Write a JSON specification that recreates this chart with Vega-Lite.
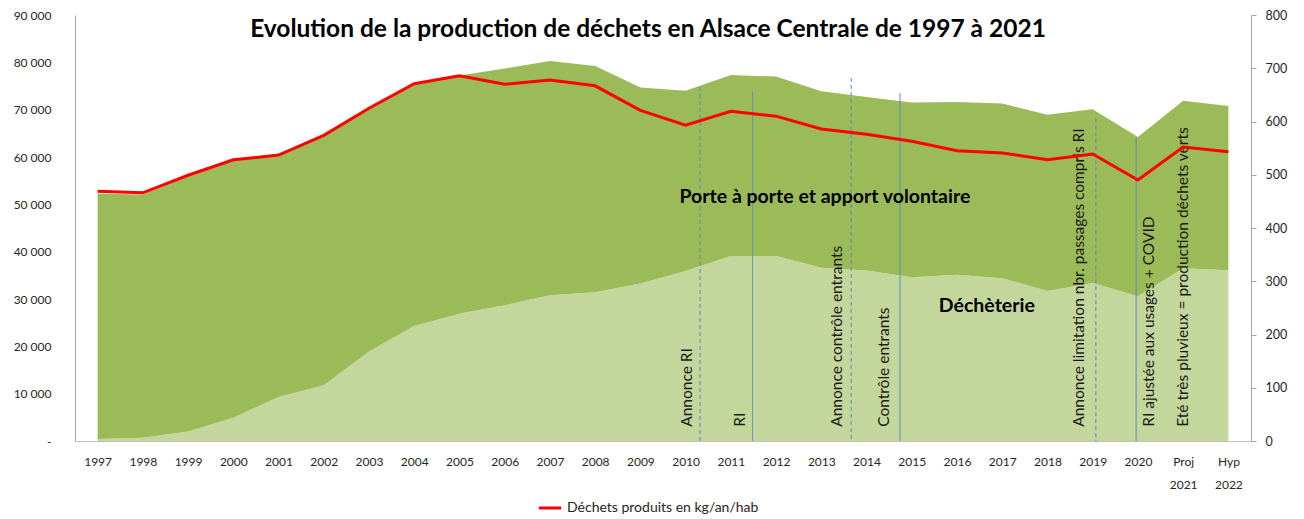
{
  "$schema": "https://vega.github.io/schema/vega-lite/v6.json",
  "width": 1176,
  "height": 426,
  "autosize": {"type": "none"},
  "padding": {"left": 75, "top": 15, "right": 53, "bottom": 78},
  "background": "white",
  "config": {"view": {"stroke": null}, "font": "Lato", "axis": {"grid": false}},
  "title": {"text": "Evolution de la production de déchets en Alsace Centrale de 1997 à 2021", "font": "Lato", "fontSize": 24.5, "fontWeight": "bold", "color": "#000000", "anchor": "middle", "dx": -15, "offset": -33},
  "datasets": {
    "prod": [
      {"year": 1997, "dech": 400, "pap": 51900, "kg": 469},
      {"year": 1998, "dech": 700, "pap": 51400, "kg": 466},
      {"year": 1999, "dech": 2000, "pap": 53900, "kg": 499},
      {"year": 2000, "dech": 4900, "pap": 54400, "kg": 528},
      {"year": 2001, "dech": 9300, "pap": 50900, "kg": 537},
      {"year": 2002, "dech": 11800, "pap": 52600, "kg": 574},
      {"year": 2003, "dech": 18900, "pap": 51200, "kg": 625},
      {"year": 2004, "dech": 24300, "pap": 51000, "kg": 671},
      {"year": 2005, "dech": 26900, "pap": 50300, "kg": 686},
      {"year": 2006, "dech": 28700, "pap": 50000, "kg": 670},
      {"year": 2007, "dech": 30800, "pap": 49500, "kg": 678},
      {"year": 2008, "dech": 31400, "pap": 47800, "kg": 667},
      {"year": 2009, "dech": 33300, "pap": 41400, "kg": 621},
      {"year": 2010, "dech": 35900, "pap": 38100, "kg": 593},
      {"year": 2011, "dech": 39100, "pap": 38200, "kg": 619},
      {"year": 2012, "dech": 39100, "pap": 37900, "kg": 610},
      {"year": 2013, "dech": 36600, "pap": 37300, "kg": 586},
      {"year": 2014, "dech": 36000, "pap": 36700, "kg": 576},
      {"year": 2015, "dech": 34600, "pap": 36900, "kg": 563},
      {"year": 2016, "dech": 35100, "pap": 36500, "kg": 545},
      {"year": 2017, "dech": 34400, "pap": 36900, "kg": 541},
      {"year": 2018, "dech": 31700, "pap": 37200, "kg": 528},
      {"year": 2019, "dech": 33400, "pap": 36700, "kg": 539},
      {"year": 2020, "dech": 30600, "pap": 33600, "kg": 490},
      {"year": 2021, "dech": 36500, "pap": 35400, "kg": 552},
      {"year": 2022, "dech": 36100, "pap": 34700, "kg": 543}
    ],
    "rules": [
      {"year": 2010.32, "top": 74800, "kind": "annonce"},
      {"year": 2011.48, "top": 73800, "kind": "effectif"},
      {"year": 2013.66, "top": 76700, "kind": "annonce"},
      {"year": 2014.74, "top": 73500, "kind": "effectif"},
      {"year": 2019.07, "top": 68200, "kind": "annonce"},
      {"year": 2019.96, "top": 64000, "kind": "effectif"}
    ],
    "notes": [
      {"note": "Annonce RI", "year": 2010.02},
      {"note": "RI", "year": 2011.2},
      {"note": "Annonce contrôle entrants", "year": 2013.34},
      {"note": "Contrôle entrants", "year": 2014.39},
      {"note": "Annonce limitation nbr. passages compris RI", "year": 2018.7},
      {"note": "RI ajustée aux usages + COVID", "year": 2020.25},
      {"note": "Eté très pluvieux = production déchets verts", "year": 2021.0}
    ],
    "zones": [
      {"zone": "Porte à porte et apport volontaire", "year": 2013.08, "val": 51500},
      {"zone": "Déchèterie", "year": 2016.66, "val": 28500}
    ]
  },
  "layer": [
    {
      "layer": [
        {
          "data": {"name": "prod"},
          "transform": [{"fold": ["dech", "pap"], "as": ["serie", "val"]}],
          "mark": {"type": "area", "interpolate": "linear"},
          "encoding": {
            "x": {"field": "year", "type": "quantitative", "scale": {"domain": [1996.5, 2022.5], "nice": false, "zero": false},
              "axis": {"values": [1997,1998,1999,2000,2001,2002,2003,2004,2005,2006,2007,2008,2009,2010,2011,2012,2013,2014,2015,2016,2017,2018,2019,2020,2021,2022],
                "labelExpr": "datum.value == 2021 ? ['Proj', '2021'] : datum.value == 2022 ? ['Hyp', '2022'] : toString(datum.value)",
                "title": null, "ticks": false, "tickSize": 0, "labelPadding": 15, "labelFontSize": 12, "labelColor": "#262626", "labelLineHeight": 23, "labelBaseline": "top", "domainColor": "#bfbfbf", "labelFlush": false, "labelOverlap": false}},
            "y": {"field": "val", "type": "quantitative", "stack": "zero", "scale": {"domain": [0, 90000], "nice": false},
              "axis": {"orient": "left", "values": [0,10000,20000,30000,40000,50000,60000,70000,80000,90000],
                "labelExpr": "datum.value == 0 ? '-' : replace(format(datum.value, ','), ',', ' ')",
                "title": null, "ticks": false, "tickSize": 0, "labelPadding": 24, "labelFontSize": 12, "labelColor": "#262626", "domainColor": "#a6a6a6"}},
            "color": {"field": "serie", "type": "nominal", "scale": {"domain": ["dech", "pap"], "range": ["#C3D69B", "#9BBB59"]}, "legend": null},
            "order": {"field": "serie", "sort": "ascending"}
          }
        },
        {
          "data": {"name": "rules"},
          "mark": {"type": "rule", "color": "#5b87c7", "strokeWidth": 1},
          "encoding": {
            "x": {"field": "year", "type": "quantitative", "scale": {"domain": [1996.5, 2022.5], "nice": false, "zero": false}},
            "y": {"field": "top", "type": "quantitative", "scale": {"domain": [0, 90000], "nice": false}},
            "y2": {"datum": 0},
            "strokeDash": {"field": "kind", "type": "nominal", "scale": {"domain": ["annonce", "effectif"], "range": [[4, 3], [1, 0]]}, "legend": null}
          }
        },
        {
          "data": {"name": "notes"},
          "mark": {"type": "text", "angle": 270, "align": "left", "baseline": "middle", "fontSize": 15.5, "color": "#1a1a1a", "font": "Lato"},
          "encoding": {
            "x": {"field": "year", "type": "quantitative", "scale": {"domain": [1996.5, 2022.5], "nice": false, "zero": false}},
            "y": {"datum": 3000, "type": "quantitative", "scale": {"domain": [0, 90000], "nice": false}},
            "text": {"field": "note", "type": "nominal"}
          }
        },
        {
          "data": {"name": "zones"},
          "mark": {"type": "text", "align": "center", "baseline": "middle", "fontSize": 19.5, "fontWeight": "bold", "color": "#000000", "font": "Lato"},
          "encoding": {
            "x": {"field": "year", "type": "quantitative", "scale": {"domain": [1996.5, 2022.5], "nice": false, "zero": false}},
            "y": {"field": "val", "type": "quantitative", "scale": {"domain": [0, 90000], "nice": false}},
            "text": {"field": "zone", "type": "nominal"}
          }
        }
      ]
    },
    {
      "data": {"name": "prod"},
      "mark": {"type": "line", "strokeWidth": 3, "interpolate": "linear"},
      "encoding": {
        "x": {"field": "year", "type": "quantitative", "scale": {"domain": [1996.5, 2022.5], "nice": false, "zero": false}},
        "y": {"field": "kg", "type": "quantitative", "scale": {"domain": [0, 800], "nice": false},
          "axis": {"orient": "right", "values": [0,100,200,300,400,500,600,700,800], "title": null, "tickSize": 5, "tickColor": "#a6a6a6", "domainColor": "#a6a6a6", "labelPadding": 9, "labelFontSize": 12.5, "labelColor": "#262626"}},
        "stroke": {"datum": "Déchets produits  en kg/an/hab", "type": "nominal", "scale": {"range": ["#ff0000"]},
          "legend": {"orient": "none", "legendX": 462, "legendY": 480, "title": null, "symbolType": "stroke", "symbolStrokeWidth": 3, "symbolSize": 500, "labelFontSize": 14, "labelLimit": 0, "labelColor": "#262626", "padding": 0}}
      }
    }
  ],
  "resolve": {"scale": {"y": "independent"}}
}
